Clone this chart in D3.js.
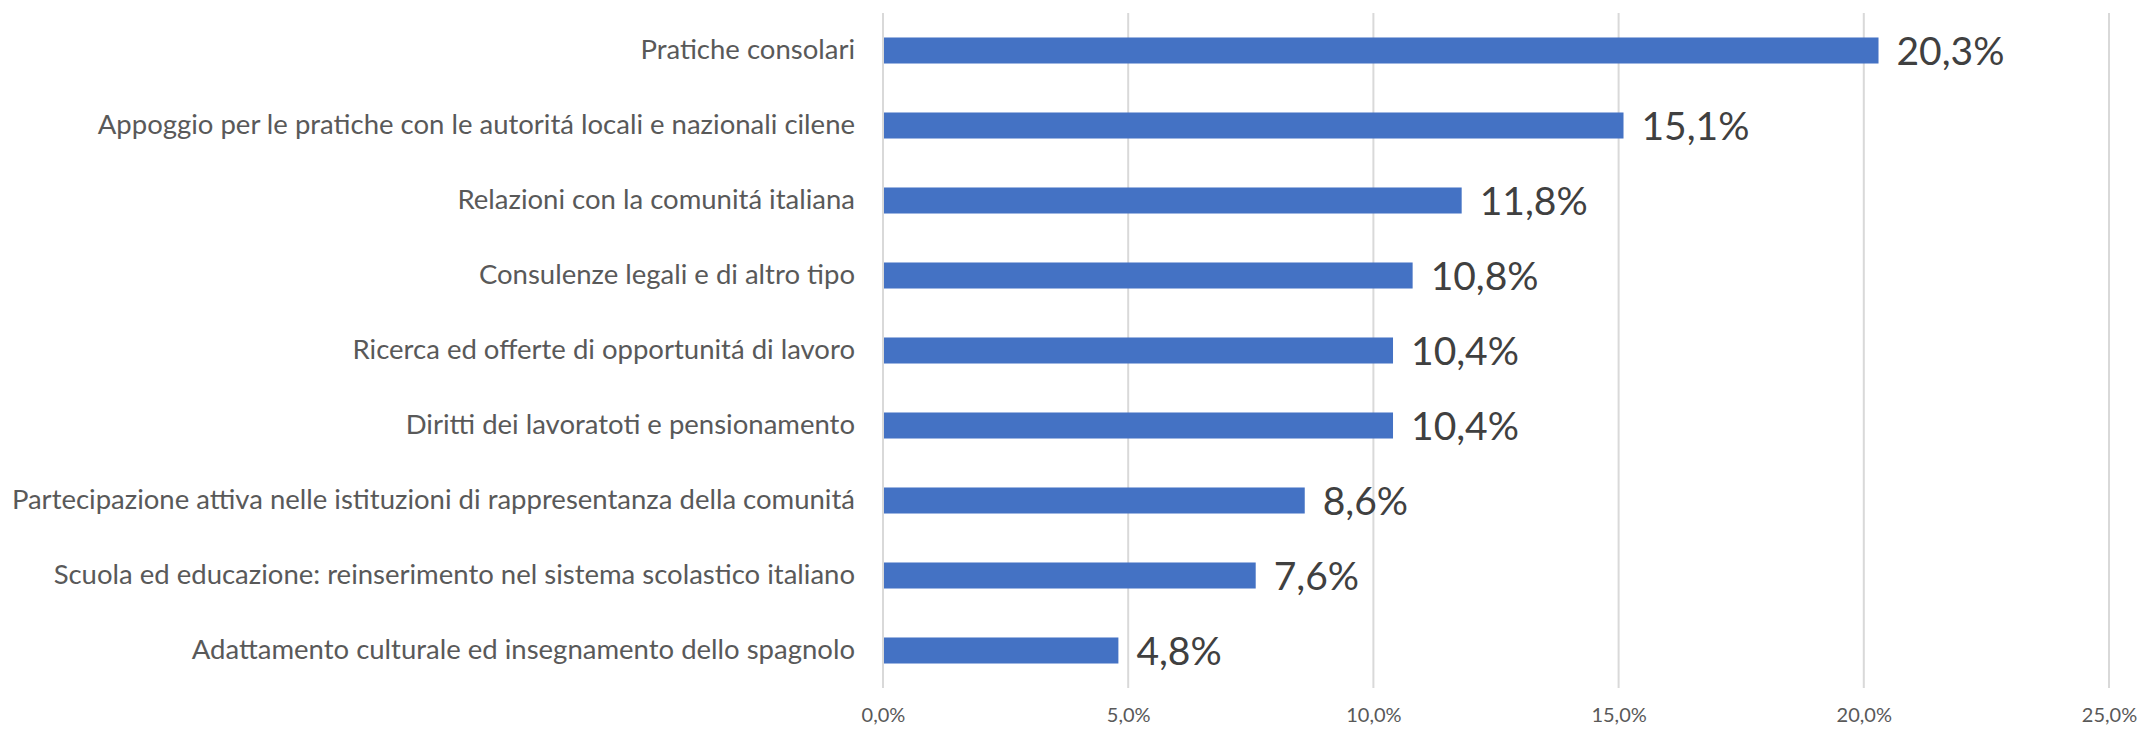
<!DOCTYPE html>
<html>
<head>
<meta charset="utf-8">
<script src="https://cdn.jsdelivr.net/npm/d3@7"></script>
<style>
  html, body { margin: 0; padding: 0; background: #ffffff; }
  svg { display: block; }
</style>
</head>
<body>
<svg id="chart" width="2141" height="732"></svg>
<script>
// Service categories, top to bottom
const categories = [
  "Pratiche consolari",
  "Appoggio per le pratiche con le autoritá locali e nazionali cilene",
  "Relazioni con la comunitá italiana",
  "Consulenze legali e di altro tipo",
  "Ricerca ed offerte di opportunitá di lavoro",
  "Diritti dei lavoratoti e pensionamento",
  "Partecipazione attiva nelle istituzioni di rappresentanza della comunitá",
  "Scuola ed educazione: reinserimento nel sistema scolastico italiano",
  "Adattamento culturale ed insegnamento dello spagnolo"
];
// Share of respondents (%)
const values = [20.3, 15.1, 11.8, 10.8, 10.4, 10.4, 8.6, 7.6, 4.8];
// Axis ticks (%)
const ticks = [0, 5, 10, 15, 20, 25];

const svg = d3.select("#chart");
const plot = { left: 883, right: 2109, top: 13, bottom: 688 };

const x = d3.scaleLinear().domain([0, 25]).range([plot.left, plot.right]);
const y = d3.scaleBand().domain(categories).range([plot.top, plot.bottom])
  .paddingInner(0.653).paddingOuter(0.3265);

const fmt = v => d3.format(".1f")(v).replace(".", ",") + "%";

// Vertical gridlines
svg.append("g").selectAll("line").data(ticks).join("line")
  .attr("x1", d => x(d)).attr("x2", d => x(d))
  .attr("y1", plot.top).attr("y2", plot.bottom)
  .attr("stroke", "#d9d9d9").attr("stroke-width", 2);

// Bottom axis tick labels
const xAxis = d3.axisBottom(x).tickValues(ticks).tickSize(0).tickPadding(0).tickFormat(fmt);
const gx = svg.append("g").attr("transform", `translate(0,${plot.bottom + 20})`).call(xAxis);
gx.select(".domain").remove();
gx.selectAll("text")
  .attr("font-family", "Lato, 'Open Sans', sans-serif")
  .attr("font-size", 20)
  .attr("fill", "#595959");

// Category labels
const yAxis = d3.axisLeft(y).tickSize(0).tickPadding(28);
const gy = svg.append("g").attr("transform", `translate(${plot.left},0)`).call(yAxis);
gy.select(".domain").remove();
gy.selectAll("text")
  .attr("font-family", "Lato, 'Open Sans', sans-serif")
  .attr("font-size", 27.5)
  .attr("fill", "#595959");

// Bars
svg.append("g").selectAll("rect").data(values).join("rect")
  .attr("x", x(0) + 1)
  .attr("y", (d, i) => y(categories[i]))
  .attr("width", d => x(d) - x(0) - 1)
  .attr("height", y.bandwidth())
  .attr("fill", "#4472c4");

// Value labels
svg.append("g").selectAll("text").data(values).join("text")
  .attr("x", d => x(d) + 18)
  .attr("y", (d, i) => y(categories[i]) + y.bandwidth() / 2)
  .attr("dy", "0.36em")
  .attr("font-family", "Lato, 'Open Sans', sans-serif")
  .attr("font-size", 39)
  .attr("fill", "#404040")
  .text(fmt);
</script>
</body>
</html>
